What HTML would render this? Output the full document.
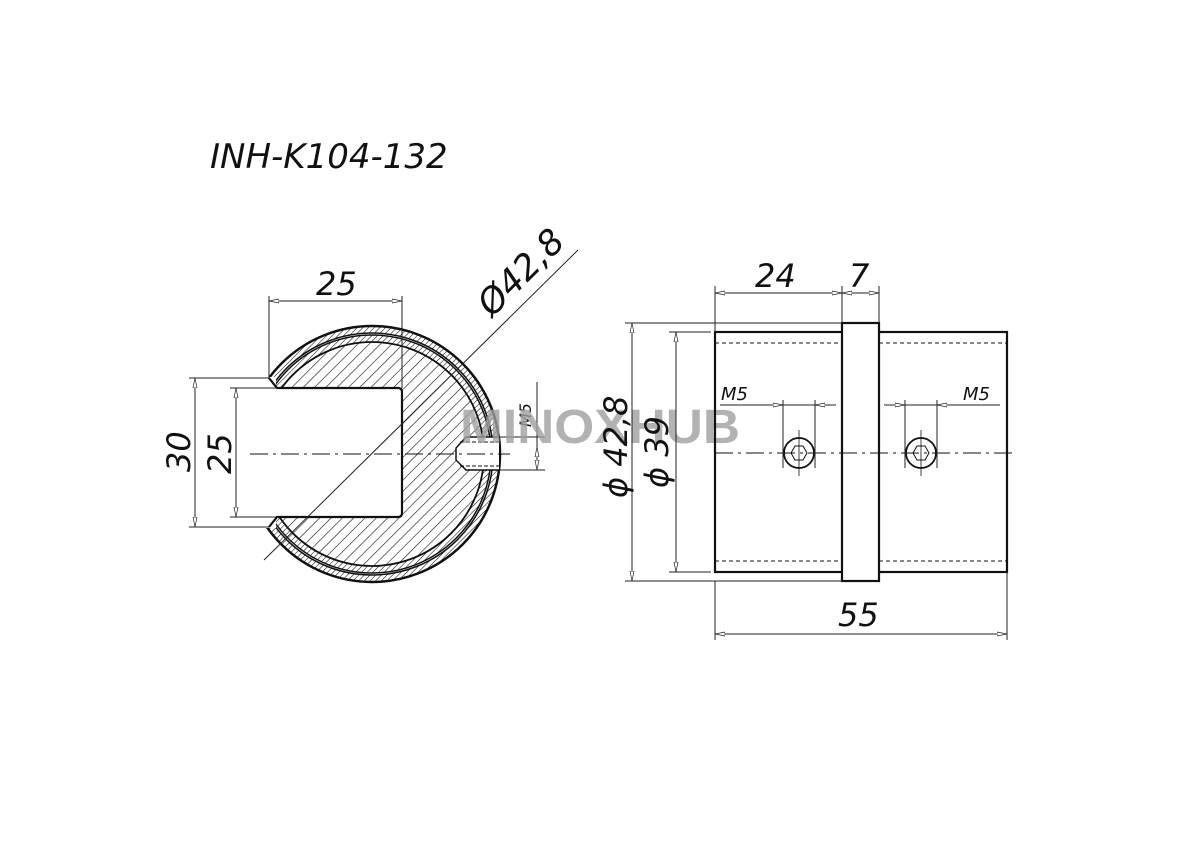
<!DOCTYPE html>
<html><head><meta charset="utf-8"><style>
html,body{margin:0;padding:0;background:#fff;}
svg{display:block;}
text{font-family:"DejaVu Sans","Liberation Sans",sans-serif;font-style:italic;fill:#111;}
text.wm{font-family:"Liberation Sans",sans-serif;font-style:normal;font-weight:bold;fill:#a0a0a0;}
</style></head><body>
<svg width="1200" height="848" viewBox="0 0 1200 848" xmlns="http://www.w3.org/2000/svg">
<defs>
<pattern id="h" patternUnits="userSpaceOnUse" width="8" height="8" patternTransform="rotate(45)">
<line x1="0" y1="0" x2="0" y2="8" stroke="#111" stroke-width="1.2"/>
</pattern>
<pattern id="h2" patternUnits="userSpaceOnUse" width="4" height="4" patternTransform="rotate(45)">
<line x1="0" y1="0" x2="0" y2="4" stroke="#111" stroke-width="1.1"/>
</pattern>
<clipPath id="c"><circle cx="372" cy="454" r="128"/></clipPath>
<marker id="a" markerWidth="10" markerHeight="6" refX="10" refY="3" orient="auto-start-reverse" markerUnits="userSpaceOnUse"><path d="M0,1 L10,3 L0,5 Z" fill="#fff" stroke="#222" stroke-width="0.7"/></marker>
</defs>
<text x="210" y="168" font-size="34">INH-K104-132</text>

<!-- LEFT VIEW -->
<g clip-path="url(#c)">
<circle cx="372" cy="454" r="128" fill="url(#h2)"/>
<circle cx="372" cy="454" r="121" fill="#fff"/>
<circle cx="372" cy="454" r="119" fill="url(#h2)"/>
<circle cx="372" cy="454" r="112" fill="#fff"/>
<circle cx="372" cy="454" r="112" fill="url(#h)"/>
</g>
<circle cx="372" cy="454" r="128" fill="none" stroke="#111" stroke-width="2.5"/>
<circle cx="372" cy="454" r="121" fill="none" stroke="#111" stroke-width="1.5"/>
<circle cx="372" cy="454" r="119" fill="none" stroke="#111" stroke-width="1.5"/>
<circle cx="372" cy="454" r="112" fill="none" stroke="#111" stroke-width="1.8"/>
<rect x="230" y="377" width="46" height="151" fill="#fff"/>
<rect x="230" y="388" width="172" height="129" fill="#fff"/>
<path d="M269,378 L277,388 L398,388 Q402,388 402,392 L402,513 Q402,517 398,517 L277,517 L269,527" fill="none" stroke="#111" stroke-width="2.2"/>
<path d="M499,437 L466,437 L456,448 L456,460 L466,470 L499,470" fill="#fff" stroke="#111" stroke-width="1.5"/>
<line x1="460" y1="442" x2="499" y2="442" stroke="#111" stroke-dasharray="4,2"/>
<line x1="460" y1="466" x2="499" y2="466" stroke="#111" stroke-dasharray="4,2"/>
<line x1="250" y1="454" x2="510" y2="454" stroke="#111" stroke-dasharray="18,5,3,5" stroke-width="1"/>
<!-- dims left -->
<g stroke="#222" stroke-width="1" fill="none">
<line x1="269" y1="296" x2="269" y2="378"/>
<line x1="402" y1="296" x2="402" y2="388"/>
<line x1="269" y1="301" x2="402" y2="301" marker-start="url(#a)" marker-end="url(#a)"/>
<line x1="189" y1="378" x2="269" y2="378"/>
<line x1="189" y1="527" x2="269" y2="527"/>
<line x1="195" y1="378" x2="195" y2="527" marker-start="url(#a)" marker-end="url(#a)"/>
<line x1="230" y1="388" x2="277" y2="388"/>
<line x1="230" y1="517" x2="277" y2="517"/>
<line x1="236" y1="388" x2="236" y2="517" marker-start="url(#a)" marker-end="url(#a)"/>
<line x1="578" y1="250" x2="264" y2="560"/>
<line x1="500" y1="437" x2="545" y2="437"/>
<line x1="500" y1="470" x2="545" y2="470"/>
<line x1="537" y1="382" x2="537" y2="470"/>
<line x1="537" y1="447" x2="537" y2="470" marker-start="url(#a)" marker-end="url(#a)"/>
</g>
<text x="316" y="295" font-size="32">25</text>
<text transform="translate(190,472) rotate(-90)" font-size="32">30</text>
<text transform="translate(231,474) rotate(-90)" font-size="32">25</text>
<text transform="translate(492,318) rotate(-45)" font-size="35">Ø42,8</text>
<text transform="translate(531,427) rotate(-90)" font-size="16">M5</text>

<!-- watermark -->
<text class="wm" x="460" y="443" font-size="48" textLength="280" lengthAdjust="spacingAndGlyphs" opacity="0.8">MINOXHUB</text>

<!-- RIGHT VIEW -->
<g stroke="#111" fill="none">
<rect x="715" y="332" width="292" height="240" stroke-width="2.2" fill="none"/>
<rect x="842" y="323" width="37" height="258" stroke-width="2.2" fill="#fff"/>
<line x1="715" y1="343" x2="842" y2="343" stroke-dasharray="4,3" stroke-width="1"/>
<line x1="879" y1="343" x2="1007" y2="343" stroke-dasharray="4,3" stroke-width="1"/>
<line x1="715" y1="561" x2="842" y2="561" stroke-dasharray="4,3" stroke-width="1"/>
<line x1="879" y1="561" x2="1007" y2="561" stroke-dasharray="4,3" stroke-width="1"/>
<line x1="715" y1="453" x2="1012" y2="453" stroke-dasharray="18,5,3,5" stroke-width="1"/>
<circle cx="799" cy="453" r="15" stroke-width="1.8"/>
<path d="M807,453 L803,460 L795,460 L791,453 L795,446 L803,446 Z" stroke-width="1"/>
<circle cx="921" cy="453" r="15" stroke-width="1.8"/>
<path d="M929,453 L925,460 L917,460 L913,453 L917,446 L925,446 Z" stroke-width="1"/>
<line x1="799" y1="430" x2="799" y2="476" stroke-width="0.8"/>
<line x1="921" y1="430" x2="921" y2="476" stroke-width="0.8"/>
</g>
<g stroke="#222" stroke-width="1" fill="none">
<line x1="715" y1="286" x2="715" y2="332"/>
<line x1="842" y1="286" x2="842" y2="323"/>
<line x1="879" y1="286" x2="879" y2="323"/>
<line x1="715" y1="293" x2="842" y2="293" marker-start="url(#a)" marker-end="url(#a)"/>
<line x1="842" y1="293" x2="879" y2="293" marker-start="url(#a)" marker-end="url(#a)"/>
<line x1="715" y1="581" x2="715" y2="640"/>
<line x1="1007" y1="572" x2="1007" y2="640"/>
<line x1="715" y1="634" x2="1007" y2="634" marker-start="url(#a)" marker-end="url(#a)"/>
<line x1="625" y1="323" x2="842" y2="323"/>
<line x1="625" y1="581" x2="842" y2="581"/>
<line x1="632" y1="323" x2="632" y2="581" marker-start="url(#a)" marker-end="url(#a)"/>
<line x1="669" y1="332" x2="711" y2="332"/>
<line x1="669" y1="572" x2="711" y2="572"/>
<line x1="676" y1="332" x2="676" y2="572" marker-start="url(#a)" marker-end="url(#a)"/>
<line x1="720" y1="405" x2="836" y2="405"/>
<line x1="783" y1="400" x2="783" y2="468"/>
<line x1="815" y1="400" x2="815" y2="468"/>
<line x1="775" y1="405" x2="783" y2="405" marker-end="url(#a)"/>
<line x1="823" y1="405" x2="815" y2="405" marker-end="url(#a)"/>
<line x1="884" y1="405" x2="1000" y2="405"/>
<line x1="905" y1="400" x2="905" y2="468"/>
<line x1="937" y1="400" x2="937" y2="468"/>
<line x1="897" y1="405" x2="905" y2="405" marker-end="url(#a)"/>
<line x1="945" y1="405" x2="937" y2="405" marker-end="url(#a)"/>
</g>
<text x="755" y="287" font-size="32">24</text>
<text x="849" y="287" font-size="32">7</text>
<text x="838" y="626" font-size="32">55</text>
<text x="721" y="400" font-size="18">M5</text>
<text x="963" y="400" font-size="18">M5</text>
<text transform="translate(627,498) rotate(-90)" font-size="32">ϕ 42,8</text>
<text transform="translate(668,488) rotate(-90)" font-size="32">ϕ 39</text>
</svg>
</body></html>
